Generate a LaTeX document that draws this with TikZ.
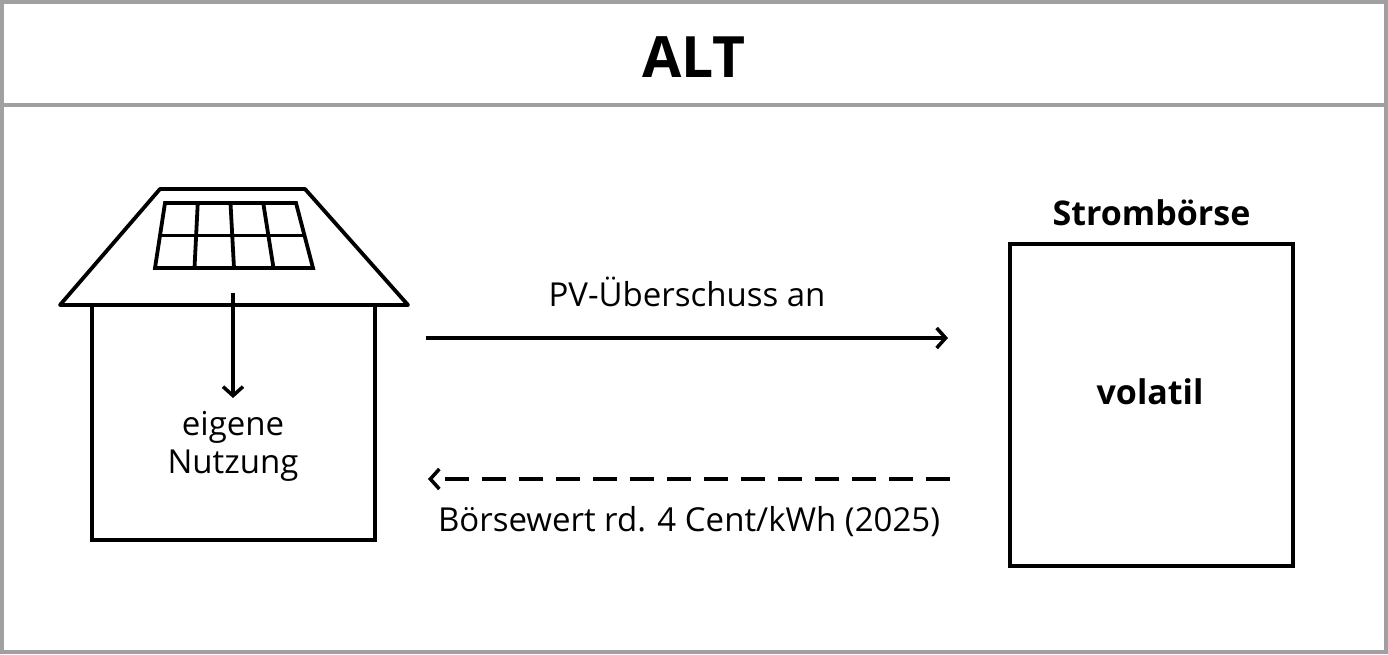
\documentclass[tikz,border=0pt]{standalone}
\usepackage{fontspec}
\setmainfont{Open Sans}
\usetikzlibrary{arrows.meta}
\usetikzlibrary{positioning}
\usetikzlibrary{calc}

\definecolor{framegray}{HTML}{A0A0A0}

\begin{document}
\begin{tikzpicture}[x=1pt,y=-1pt,line width=3.8pt,
    frame line/.style={draw=framegray,line width=3.8pt},
    flow arrow/.style={-{Straight Barb[length=9pt,width=20pt,line width=3.5pt]},line width=3.5pt},
    label text/.style={font=\fontsize{33}{38}\selectfont,inner sep=0pt},
    bold text/.style={font=\fontsize{34}{38}\selectfont\bfseries,inner sep=0pt}]
    \useasboundingbox (0,0) rectangle (1388,654);
    % frame
    \draw[frame line] (2,2) rectangle (1386,652);
    \draw[frame line] (2,105) -- (1386,105);
    \node[font=\fontsize{57}{64}\selectfont\bfseries,inner sep=0pt] (title) at (694,57) {ALT};
    % house
    \draw[line join=round] (60,305) -- (160,189) -- (305,189) -- (408,305) -- cycle;
    \draw (92,305) -- (92,540) -- (375,540) -- (375,305);
    \coordinate (pbl) at (155,268);
    \coordinate (ptl) at (165,203);
    \coordinate (ptr) at (296,203);
    \coordinate (pbr) at (313,268);
    \draw (pbl) -- (ptl) -- (ptr) -- (pbr) -- cycle;
    \foreach \t in {0.25,0.5,0.75}
        \draw ($(pbl)!\t!(pbr)$) -- ($(ptl)!\t!(ptr)$);
    \draw ($(pbl)!0.5!(ptl)$) -- ($(pbr)!0.5!(ptr)$);
    \coordinate (roof) at (233,293);
    \coordinate (use) at (233,398);
    \draw[flow arrow] (roof) -- (use);
    \node[label text,align=center] (own) at (233,446) {eigene\\[0pt]Nutzung};
    % exchange
    \node[draw,line width=4pt,minimum width=283pt,minimum height=322pt,inner sep=0pt] (market) at (1151.5,405) {};
    \node[bold text] (volatil) at (1150,392) {volatil};
    \node[bold text,above=14pt of market.north] (mname) {Strombörse};
    % flows
    \coordinate (outA) at (426,338);
    \coordinate (outB) at (948,338);
    \draw[flow arrow] (outA) -- (outB);
    \node[label text] (surplus) at (687,292) {PV-Überschuss an};
    \coordinate (inA) at (950,479);
    \coordinate (inB) at (428,479);
    \draw[flow arrow,dash pattern=on 24pt off 13pt] (inA) -- (inB);
    \node[label text] (price) at (689,522) {Börsewert rd. 4 Cent/kWh (2025)};
\end{tikzpicture}
\end{document}
